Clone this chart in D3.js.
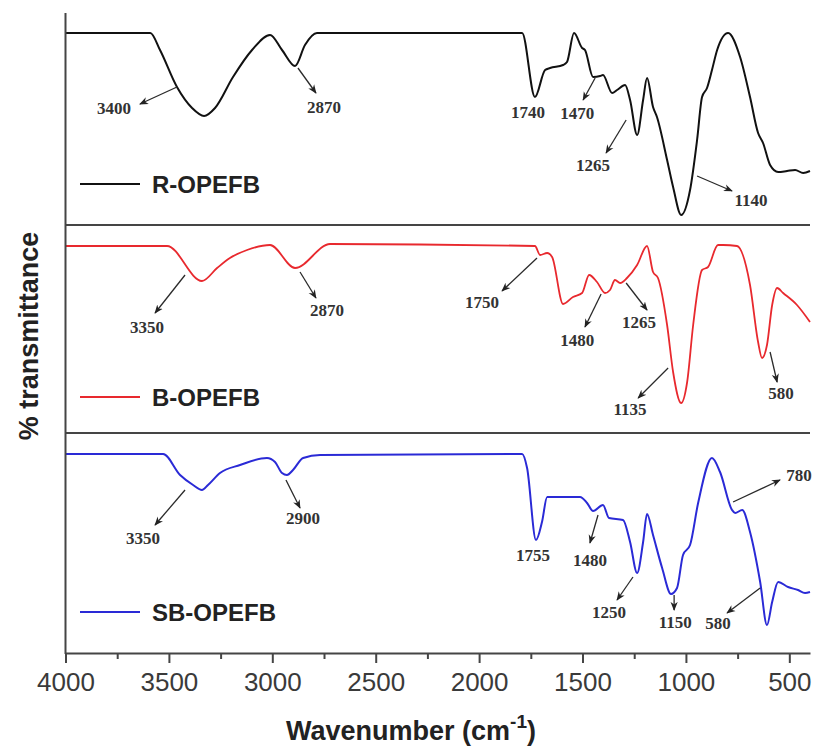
<!DOCTYPE html>
<html lang="en">
<head>
<meta charset="utf-8">
<script src="https://d3js.org/d3.v7.min.js"></script>
<style>
  body { margin: 0; background: #fff; }
  .tick text { font-family: Arial, "Liberation Sans", sans-serif; }
</style>
</head>
<body>
<script>
// ---- FTIR spectra (wavenumber, % transmittance in arbitrary panel units) ----
const r_wn = [4000,3590,3543,3461,3388,3330,3277,3190,3098,3011,2953,2890,2842,2784,1792,1730,1681,1657,1594,1575,1541,1502,1488,1449,1415,1401,1357,1333,1294,1270,1236,1207,1188,1159,1140,1091,1062,1023,980,946,922,898,874,849,796,738,690,651,627,593,554,511,472,433,400];
const r_T  = [96,96,87.5,69,58.5,54.5,58.5,74,87.5,95,87.5,79.5,90,96,96,64,77.5,78.5,80,81.5,96,88.5,87.5,74,74.5,75,66,67.5,70,62.5,45,62.5,73.5,59,54,32.5,19,5,17.5,42.5,64,68.5,77.5,87.5,96,84,64,46,41,30,26.5,27,27.5,26,27];

const b_wn = [4000,3509,3340,3267,3205,3122,3011,2890,2721,1730,1705,1671,1647,1594,1546,1502,1468,1430,1391,1367,1343,1318,1285,1236,1188,1159,1135,1091,1062,1023,994,965,922,893,845,820,753,690,651,632,608,583,559,530,463,400];
const b_T  = [93.5,93.5,76,82.5,87.5,91.5,94,82.5,94.5,93.5,89,90,88,64.5,68,70,79,75.5,70,71.5,76.5,75,77.5,84,93.5,80.5,77.5,54,30.5,15,25.5,54,81.5,83,94,94,93.5,74,45.5,37.5,44,64,72.5,70,64,55.5];

const s_wn = [4000,3528,3446,3383,3340,3311,3253,3156,3026,2987,2953,2929,2900,2851,2769,1792,1768,1725,1696,1671,1512,1478,1449,1401,1372,1304,1270,1236,1207,1188,1159,1115,1072,1043,1014,980,941,874,835,777,762,728,690,641,608,583,554,506,458,424,400];
const s_T  = [99.5,99.5,89,84,81.5,84,90,94,97.5,95.5,90,89,91.5,97.5,99,99.5,92.5,56.5,65.5,78,78,75,71,74,67.5,66.5,55.5,40,55.5,69.5,59,42.5,29.5,32.5,49,54,75,97.5,90.5,71.5,70,71.5,60.5,35.5,14,25.5,35.5,33,31.5,30,30.5];

// peak labels: label anchor (wn, t) and optional arrow [wn1, t1, wn2, t2]
const r_notes = [
  {text: "3400", wn: 3765, t: 58.5, arrow: [3461, 69, 3640, 60.5]},
  {text: "2870", wn: 2750, t: 59,   arrow: [2876, 78.5, 2789, 66]},
  {text: "1740", wn: 1763, t: 56.5, arrow: null},
  {text: "1470", wn: 1526, t: 56,   arrow: [1439, 73.5, 1497, 62.5]},
  {text: "1265", wn: 1449, t: 30,   arrow: [1289, 52.5, 1386, 36]},
  {text: "1140", wn: 685,  t: 12.5, arrow: [946, 24.5, 777, 17]}
];
const b_notes = [
  {text: "3350", wn: 3606, t: 53,   arrow: [3422, 79, 3567, 60]},
  {text: "2870", wn: 2735, t: 61.5, arrow: [2866, 80.5, 2789, 67.5]},
  {text: "1750", wn: 1986, t: 65.5, arrow: [1720, 87.5, 1889, 71]},
  {text: "1480", wn: 1526, t: 46.5, arrow: [1410, 69.5, 1488, 53]},
  {text: "1265", wn: 1227, t: 55.5, arrow: [1289, 75, 1188, 61.5]},
  {text: "1135", wn: 1270, t: 12,   arrow: [1086, 32.5, 1231, 17.5]},
  {text: "580",  wn: 540,  t: 20,   arrow: [593, 40.5, 559, 25.5]}
];
const s_notes = [
  {text: "3350", wn: 3625, t: 57.5, arrow: [3422, 81.5, 3567, 64]},
  {text: "2900", wn: 2851, t: 67.5, arrow: [2934, 86.5, 2866, 72.5]},
  {text: "1755", wn: 1739, t: 49,   arrow: null},
  {text: "1480", wn: 1464, t: 46.5, arrow: [1425, 69, 1464, 55]},
  {text: "1250", wn: 1372, t: 20.5, arrow: [1256, 38, 1333, 26.5]},
  {text: "1150", wn: 1052, t: 15.5, arrow: [1057, 29, 1057, 21.5]},
  {text: "580",  wn: 845,  t: 15,   arrow: [641, 32.5, 801, 20]},
  {text: "780",  wn: 453,  t: 89,   arrow: [772, 75.5, 545, 86.5]}
];

const majorTicks = [4000, 3500, 3000, 2500, 2000, 1500, 1000, 500];
const minorTicks = [3750, 3250, 2750, 2250, 1750, 1250, 750];

// ---- layout ----
const width = 815, height = 746;
const left = 65.5, right = 810, plotTop = 13, plotBottom = 653;
const axisColor = "#454545";

const svg = d3.select("body").append("svg")
  .attr("width", width).attr("height", height);

svg.append("defs").append("marker")
  .attr("id", "arrow")
  .attr("viewBox", "0 0 10 10")
  .attr("refX", 9).attr("refY", 5)
  .attr("markerWidth", 9).attr("markerHeight", 9)
  .attr("markerUnits", "userSpaceOnUse")
  .attr("orient", "auto")
  .append("path")
  .attr("d", "M0,1 L10,5 L0,9 L3,5 Z")
  .attr("fill", "#222");

const x = d3.scaleLinear().domain([4000, 400]).range([left, right]);

const panels = [
  {name: "R-OPEFB",  color: "#111111", wn: r_wn, t: r_T, notes: r_notes, top: plotTop, bottom: 225, max: 106, legendY: 184, lw: 2},
  {name: "B-OPEFB",  color: "#e8292e", wn: b_wn, t: b_T, notes: b_notes, top: 225, bottom: 433, max: 104, legendY: 397, lw: 1.8},
  {name: "SB-OPEFB", color: "#2a2ad6", wn: s_wn, t: s_T, notes: s_notes, top: 433, bottom: plotBottom, max: 110, legendY: 612, lw: 2}
];

panels.forEach(p => {
  const y = d3.scaleLinear().domain([0, p.max]).range([p.bottom, p.top]);
  const pts = p.wn.map((w, i) => [w, p.t[i]]);
  const line = d3.line()
    .x(d => x(d[0]))
    .y(d => y(d[1]))
    .curve(d3.curveMonotoneX);

  const g = svg.append("g");

  g.append("path")
    .datum(pts)
    .attr("d", line)
    .attr("fill", "none")
    .attr("stroke", p.color)
    .attr("stroke-width", p.lw)
    .attr("stroke-linejoin", "round");

  // annotations
  p.notes.forEach(n => {
    if (n.arrow) {
      g.append("line")
        .attr("x1", x(n.arrow[0])).attr("y1", y(n.arrow[1]))
        .attr("x2", x(n.arrow[2])).attr("y2", y(n.arrow[3]))
        .attr("stroke", "#2a2a2a")
        .attr("stroke-width", 1.3)
        .attr("marker-end", "url(#arrow)");
    }
    g.append("text")
      .attr("x", x(n.wn)).attr("y", y(n.t))
      .attr("text-anchor", "middle")
      .attr("dominant-baseline", "central")
      .attr("font-family", "'Liberation Serif', 'Times New Roman', serif")
      .attr("font-weight", "bold")
      .attr("font-size", 17)
      .attr("fill", "#333")
      .text(n.text);
  });

  // legend
  g.append("line")
    .attr("x1", 80).attr("x2", 140)
    .attr("y1", p.legendY).attr("y2", p.legendY)
    .attr("stroke", p.color).attr("stroke-width", p.lw);
  g.append("text")
    .attr("x", 152).attr("y", p.legendY + 9)
    .attr("font-family", "Arial, 'Liberation Sans', sans-serif")
    .attr("font-weight", "bold")
    .attr("font-size", 24)
    .attr("fill", "#222")
    .text(p.name);
});

// panel separators
[225, 433].forEach(yy => {
  svg.append("line")
    .attr("x1", left).attr("x2", right)
    .attr("y1", yy).attr("y2", yy)
    .attr("stroke", axisColor).attr("stroke-width", 2);
});

// left spine
svg.append("line")
  .attr("x1", left).attr("x2", left)
  .attr("y1", plotTop).attr("y2", plotBottom + 1)
  .attr("stroke", axisColor).attr("stroke-width", 2);

// bottom axis
const xAxis = svg.append("g")
  .attr("transform", `translate(0,${plotBottom})`)
  .call(d3.axisBottom(x).tickValues(majorTicks).tickFormat(d3.format("d"))
    .tickSize(10).tickSizeOuter(0).tickPadding(10));
xAxis.select(".domain").attr("stroke", axisColor).attr("stroke-width", 2);
xAxis.selectAll(".tick line").attr("stroke", axisColor).attr("stroke-width", 2);
xAxis.selectAll(".tick text")
  .attr("font-size", 26)
  .attr("fill", "#3a3a3a");

const xMinor = svg.append("g")
  .attr("transform", `translate(0,${plotBottom})`)
  .call(d3.axisBottom(x).tickValues(minorTicks).tickSize(6).tickFormat(""));
xMinor.select(".domain").remove();
xMinor.selectAll(".tick line").attr("stroke", axisColor).attr("stroke-width", 2);

// axis titles
const xt = svg.append("text")
  .attr("x", 411).attr("y", 740)
  .attr("text-anchor", "middle")
  .attr("font-family", "Arial, 'Liberation Sans', sans-serif")
  .attr("font-weight", "bold")
  .attr("font-size", 27)
  .attr("fill", "#222");
xt.append("tspan").text("Wavenumber (cm");
xt.append("tspan").attr("font-size", 19).attr("dy", -12).text("-1");
xt.append("tspan").attr("dy", 12).text(")");

svg.append("text")
  .attr("transform", "translate(38,336) rotate(-90)")
  .attr("text-anchor", "middle")
  .attr("font-family", "Arial, 'Liberation Sans', sans-serif")
  .attr("font-weight", "bold")
  .attr("font-size", 27)
  .attr("fill", "#222")
  .text("% transmittance");
</script>
</body>
</html>
